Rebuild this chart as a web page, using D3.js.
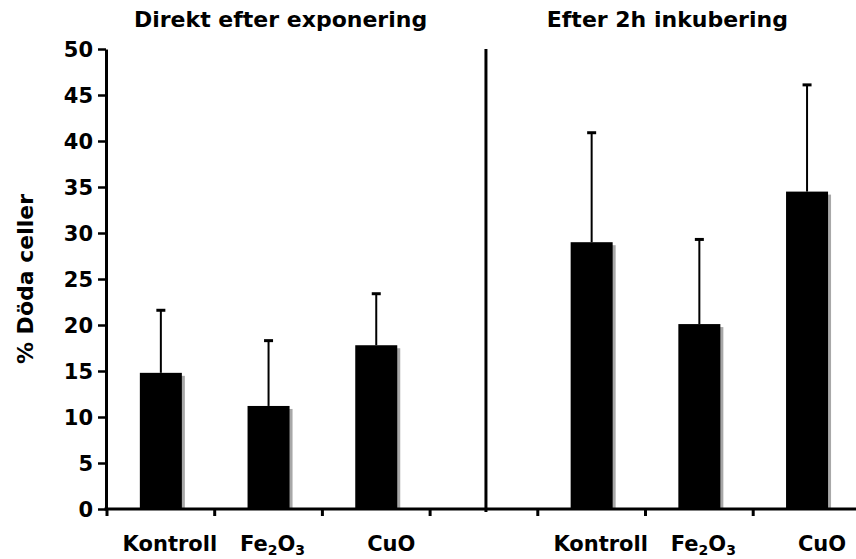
<!DOCTYPE html>
<html>
<head>
<meta charset="utf-8">
<script src="https://cdn.jsdelivr.net/npm/d3@7"></script>
<style>
  body { margin: 0; background: #fff; }
  text { font-family: "DejaVu Sans", Verdana, sans-serif; font-weight: bold; fill: #000; }
</style>
</head>
<body>
<div id="viz"></div>
<script>
// data
var groups = ['Direkt efter exponering', 'Efter 2h inkubering'];
var categories = ['Kontroll', 'Fe2O3', 'CuO'];
var directMeans = [14.8, 11.2, 17.8];
var directSD = [6.8, 7.1, 5.6];
var incubMeans = [29.0, 20.1, 34.5];
var incubSD = [11.9, 9.2, 11.6];
var yLabel = '% Döda celler';

var width = 856,
    height = 559,
    plotLeft = 106,
    plotTop = 49,
    plotBottom = 509,
    step = 107.7,
    labelDx = [10, 5, 16];

// build rows: 3 slots per group, one empty slot between them
var rows = [];
categories.forEach(function(c, i) {
    rows.push({slot: i, cat: c, ci: i, mean: directMeans[i], sd: directSD[i]});
    rows.push({slot: i + 4, cat: c, ci: i, mean: incubMeans[i], sd: incubSD[i]});
});

var x = d3.scaleBand()
    .domain(d3.range(7))
    .range([plotLeft, plotLeft + 7 * step])
    .padding(0);

var y = d3.scaleLinear()
    .domain([0, 50])
    .range([plotBottom, plotTop]);

var barWidth = x.bandwidth() * 0.39;

function cx(d) { return x(d.slot) + x.bandwidth() / 2 + 1; }

var svg = d3.select('#viz').append('svg')
    .attr('width', width)
    .attr('height', height)
    .style('background', '#fff');

// bars: grey shadow, then black bar
var bar = svg.append('g').selectAll('g').data(rows)
    .enter().append('g');

bar.append('rect')
    .attr('x', function(d) { return cx(d) - barWidth / 2 + 3; })
    .attr('y', function(d) { return y(d.mean) + 3; })
    .attr('width', barWidth)
    .attr('height', function(d) { return plotBottom - y(d.mean) - 3; })
    .attr('fill', '#a8a8a8');

bar.append('rect')
    .attr('x', function(d) { return cx(d) - barWidth / 2; })
    .attr('y', function(d) { return y(d.mean); })
    .attr('width', barWidth)
    .attr('height', function(d) { return plotBottom - y(d.mean); })
    .attr('fill', '#000');

// error bars (upper only)
bar.append('line')
    .attr('x1', cx)
    .attr('x2', cx)
    .attr('y1', function(d) { return y(d.mean); })
    .attr('y2', function(d) { return y(d.mean + d.sd); })
    .attr('stroke', '#000')
    .attr('stroke-width', 2);

bar.append('line')
    .attr('x1', function(d) { return cx(d) - 4.5; })
    .attr('x2', function(d) { return cx(d) + 4.5; })
    .attr('y1', function(d) { return y(d.mean + d.sd); })
    .attr('y2', function(d) { return y(d.mean + d.sd); })
    .attr('stroke', '#000')
    .attr('stroke-width', 3);

// y axis
var yAxis = svg.append('g')
    .attr('transform', 'translate(' + plotLeft + ',0)')
    .call(d3.axisLeft(y).tickValues(d3.range(0, 51, 5)).tickSize(8).tickPadding(5).tickSizeOuter(0));
yAxis.select('.domain').attr('stroke-width', 3);
yAxis.selectAll('.tick line').attr('stroke-width', 2.5);
yAxis.selectAll('.tick text').style('font-size', '21px').attr('dy', '0.36em');

// x axis: line plus ticks at slot boundaries
svg.append('line')
    .attr('x1', plotLeft - 1.5)
    .attr('x2', width)
    .attr('y1', plotBottom)
    .attr('y2', plotBottom)
    .attr('stroke', '#000')
    .attr('stroke-width', 3);

svg.append('g').selectAll('line').data(d3.range(7))
    .enter().append('line')
    .attr('x1', function(d) { return x(d) + 1; })
    .attr('x2', function(d) { return x(d) + 1; })
    .attr('y1', plotBottom)
    .attr('y2', plotBottom + 7)
    .attr('stroke', '#000')
    .attr('stroke-width', 3);

// divider between groups
svg.append('line')
    .attr('x1', x(3) + x.bandwidth() / 2 + 3)
    .attr('x2', x(3) + x.bandwidth() / 2 + 3)
    .attr('y1', plotTop)
    .attr('y2', plotBottom + 3)
    .attr('stroke', '#000')
    .attr('stroke-width', 3);

// category labels, Fe2O3 with subscripts
var lab = svg.append('g').selectAll('text').data(rows)
    .enter().append('text')
    .attr('x', function(d) { return x(d.slot) + x.bandwidth() / 2 + labelDx[d.ci]; })
    .attr('y', plotBottom + 42)
    .attr('text-anchor', 'middle')
    .style('font-size', '21px');

lab.each(function(d) {
    var t = d3.select(this);
    var parts = d.cat.match(/[A-Za-z]+|\d+/g);
    parts.forEach(function(p, k) {
        if (/\d/.test(p)) {
            t.append('tspan').text(p).style('font-size', '14px').attr('dy', 4);
        } else {
            t.append('tspan').text(p).attr('dy', k ? -4 : 0);
        }
    });
});

// group titles
svg.append('g').selectAll('text').data(groups)
    .enter().append('text')
    .attr('x', function(d, i) { return i === 0 ? x(1) + x.bandwidth() / 2 + 13 : x(5) + x.bandwidth() / 2 - 31; })
    .attr('y', 27)
    .attr('text-anchor', 'middle')
    .style('font-size', '22px')
    .text(function(d) { return d; });

// y label
svg.append('text')
    .attr('transform', 'translate(33,' + ((plotTop + plotBottom) / 2) + ') rotate(-90)')
    .attr('text-anchor', 'middle')
    .style('font-size', '22px')
    .text(yLabel);
</script>
</body>
</html>
